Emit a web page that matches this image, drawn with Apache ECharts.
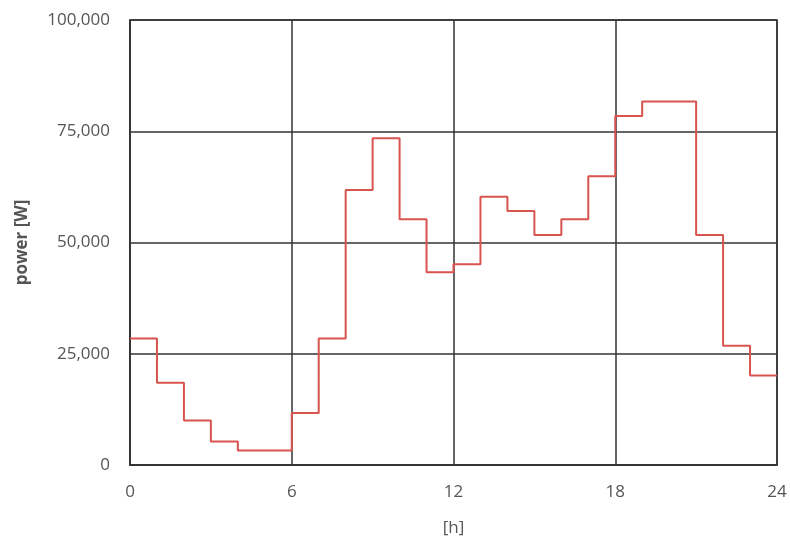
<!DOCTYPE html>
<html>
<head>
<meta charset="utf-8">
<script src="https://cdn.jsdelivr.net/npm/echarts@6/dist/echarts.min.js"></script>
<style>html,body{margin:0;padding:0;background:#fff}#c{width:790px;height:540px}</style>
</head>
<body>
<div id="c"></div>
<script>
// hour at which each step starts (last point closes the final step at 24 h)
const hours = [0,1,2,3,4,5,6,7,8,9,10,11,12,13,14,15,16,17,18,19,20,21,22,23,24];
// power [W] during each hour
const power = [28400,18500,10000,5300,3250,3250,11700,28400,61800,73400,55200,43300,45100,60300,57100,51700,55200,64900,78400,81700,81700,51700,26800,20100,20100];
const xTicks = [0,6,12,18,24];
const yTicks = [0,25000,50000,75000,100000];

const chart = echarts.init(document.getElementById('c'), null, {renderer:'canvas'});
const labelFont = {color:'#555555', fontSize:17, fontFamily:'Open Sans'};
chart.setOption({
  animation:false,
  backgroundColor:'#fff',
  grid:{left:130, right:13, top:20, bottom:75, outerBoundsMode:'none', containLabel:false, show:true, borderColor:'#333333', borderWidth:1.5},
  xAxis:{
    type:'value', min:xTicks[0], max:xTicks[xTicks.length-1], interval:6,
    name:'[h]', nameLocation:'middle', nameGap:55,
    nameTextStyle:{color:'#555555', fontSize:17, fontFamily:'Open Sans'},
    axisLine:{show:true, lineStyle:{color:'#333333', width:1.5}},
    axisTick:{show:false},
    splitLine:{show:true, lineStyle:{color:'#333333', width:1.5}},
    axisLabel:Object.assign({margin:19}, labelFont)
  },
  yAxis:{
    type:'value', min:yTicks[0], max:yTicks[yTicks.length-1], interval:25000,
    name:'power [W]', nameLocation:'middle', nameGap:99,
    nameTextStyle:{color:'#555555', fontSize:17, fontFamily:'Open Sans', fontWeight:'bold'},
    axisLine:{show:true, lineStyle:{color:'#333333', width:1.5}},
    axisTick:{show:false},
    splitLine:{show:true, lineStyle:{color:'#333333', width:1.5}},
    axisLabel:Object.assign({margin:20, formatter:v=>v.toLocaleString('en-US')}, labelFont)
  },
  series:[{
    type:'line', step:'end', symbol:'none',
    data:hours.map((h,i)=>[h,power[i]]),
    lineStyle:{color:'#d9534f', width:2}
  }]
});
</script>
</body>
</html>
